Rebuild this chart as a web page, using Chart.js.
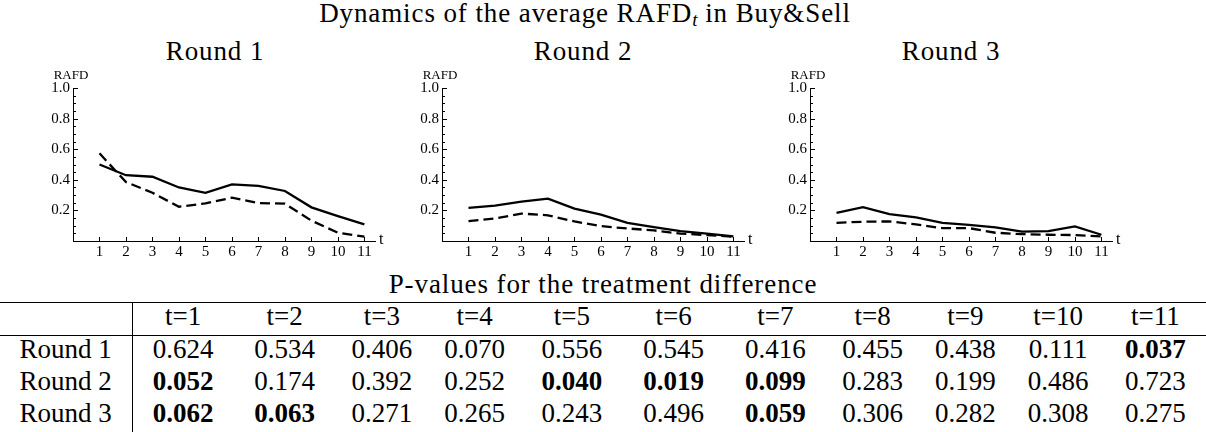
<!DOCTYPE html>
<html><head><meta charset="utf-8">
<script src="https://cdn.jsdelivr.net/npm/chart.js@4/dist/chart.umd.min.js"></script>
<style>
html,body{margin:0;padding:0;background:#fff;}
body{width:1206px;height:432px;position:relative;overflow:hidden;font-family:"Liberation Serif",serif;color:#000;}
.ttl{position:absolute;white-space:nowrap;font-size:27px;line-height:30px;letter-spacing:0.9px;transform:translateX(-50%);}
.ttl sub{font-size:19px;font-style:italic;vertical-align:-4px;line-height:0;letter-spacing:0;}
canvas{position:absolute;top:60px;}
table{position:absolute;left:0;top:302px;width:1206px;border-collapse:collapse;table-layout:fixed;font-size:27px;}
td{padding:0;height:26px;line-height:26px;padding-bottom:6px;text-align:center;white-space:nowrap;}
tr.head td{border-top:1px solid #000;border-bottom:1px solid #000;}
td.lab{border-right:1px solid #000;}
td.b{font-weight:bold;}
</style></head>
<body>
<div class="ttl" style="left:585px;top:-2px;">Dynamics of the average RAFD<sub>t</sub> in Buy&amp;Sell</div>
<div class="ttl" style="left:215px;top:36px;">Round 1</div>
<div class="ttl" style="left:583px;top:36px;">Round 2</div>
<div class="ttl" style="left:951px;top:36px;">Round 3</div>
<canvas id="c1" width="400" height="200" style="left:0px;"></canvas>
<canvas id="c2" width="400" height="200" style="left:369px;"></canvas>
<canvas id="c3" width="400" height="200" style="left:737px;"></canvas>
<div class="ttl" style="left:603px;top:269px;">P-values for the treatment difference</div>
<table id="tbl"></table>
<script>
// ---- chart data ----
const tValues = [1,2,3,4,5,6,7,8,9,10,11];
const yTickValues = [0.2,0.4,0.6,0.8,1.0];
const round1Solid  = [0.50, 0.43, 0.42, 0.35, 0.315, 0.37, 0.36, 0.327, 0.22, 0.163, 0.109];
const round1Dashed = [0.573, 0.385, 0.315, 0.224, 0.246, 0.283, 0.248, 0.244, 0.133, 0.054, 0.028];
const round2Solid  = [0.216, 0.231, 0.257, 0.277, 0.212, 0.173, 0.119, 0.091, 0.065, 0.048, 0.030];
const round2Dashed = [0.130, 0.147, 0.179, 0.168, 0.128, 0.097, 0.082, 0.069, 0.048, 0.039, 0.028];
const round3Solid  = [0.184, 0.221, 0.175, 0.155, 0.119, 0.106, 0.089, 0.061, 0.065, 0.095, 0.041];
const round3Dashed = [0.119, 0.126, 0.128, 0.108, 0.084, 0.084, 0.054, 0.045, 0.041, 0.039, 0.030];

// ---- table data ----
const tHeaders = ['t=1','t=2','t=3','t=4','t=5','t=6','t=7','t=8','t=9','t=10','t=11'];
const roundLabels = ['Round 1','Round 2','Round 3'];
const pRound1 = ['0.624','0.534','0.406','0.070','0.556','0.545','0.416','0.455','0.438','0.111','0.037'];
const pRound2 = ['0.052','0.174','0.392','0.252','0.040','0.019','0.099','0.283','0.199','0.486','0.723'];
const pRound3 = ['0.062','0.063','0.271','0.265','0.243','0.496','0.059','0.306','0.282','0.308','0.275'];
const boldRound1 = [10];
const boldRound2 = [0,4,5,6];
const boldRound3 = [0,1,6];

const FONT = {family:'"Liberation Serif", serif', size:15};

const axisDecor = {
  id:'axisDecor',
  afterDraw(chart){
    const {ctx, chartArea:a, scales:{x,y}} = chart;
    ctx.save();
    ctx.strokeStyle='#000'; ctx.lineWidth=1;
    ctx.beginPath();
    for(let k=1;k<=20;k++){
      const py = Math.round(y.getPixelForValue(k*0.05))+0.5;
      const len = (k%4===0)?5:3;
      ctx.moveTo(a.left, py); ctx.lineTo(a.left+len, py);
    }
    tValues.forEach(t=>{
      const px = Math.round(x.getPixelForValue(t))+0.5;
      ctx.moveTo(px, a.bottom); ctx.lineTo(px, a.bottom-4);
    });
    ctx.stroke();
    ctx.fillStyle='#000';
    ctx.font = '13px "Liberation Serif", serif';
    ctx.textAlign='center'; ctx.textBaseline='middle';
    ctx.fillText('RAFD', a.left-2, a.top-12);
    ctx.font = '16px "Liberation Serif", serif';
    ctx.textAlign='left';
    ctx.fillText('t', a.right+4, a.bottom-1);
    ctx.restore();
  }
};

function makeChart(id, solid, dashed){
  const pts = arr => tValues.map((t,i)=>({x:t, y:arr[i]}));
  new Chart(document.getElementById(id), {
    type:'line',
    data:{datasets:[
      {data:pts(solid), borderColor:'#000', borderWidth:2.3, pointRadius:0, fill:false, tension:0},
      {data:pts(dashed), borderColor:'#000', borderWidth:2.3, borderDash:[10,5], pointRadius:0, fill:false, tension:0}
    ]},
    options:{
      responsive:false, animation:false, events:[],
      layout:{padding:{top:28,right:25,left:0,bottom:0}},
      plugins:{legend:{display:false}, tooltip:{enabled:false}},
      scales:{
        x:{type:'linear', min:0, max:11.4,
           afterBuildTicks:s=>{s.ticks = tValues.map(v=>({value:v}));},
           afterFit:s=>{s.height=19;},
           ticks:{font:FONT, color:'#000', padding:2, maxRotation:0, autoSkip:false, callback:v=>String(v)},
           grid:{display:false, drawTicks:false},
           border:{display:true, color:'#000', width:1}},
        y:{type:'linear', min:0, max:1,
           afterBuildTicks:s=>{s.ticks = yTickValues.map(v=>({value:v}));},
           afterFit:s=>{s.width=73;},
           ticks:{font:FONT, color:'#000', padding:3, callback:v=>Number(v).toFixed(1)},
           grid:{display:false, drawTicks:false},
           border:{display:true, color:'#000', width:1}}
      }
    },
    plugins:[axisDecor]
  });
}
makeChart('c1', round1Solid, round1Dashed);
makeChart('c2', round2Solid, round2Dashed);
makeChart('c3', round3Solid, round3Dashed);

// ---- table ----
(function(){
  const tbl = document.getElementById('tbl');
  const rows = [pRound1, pRound2, pRound3];
  const bolds = [boldRound1, boldRound2, boldRound3];
  const cg = document.createElement('colgroup');
  const c0 = document.createElement('col'); c0.style.width='132px'; cg.appendChild(c0);
  tHeaders.forEach((h,j)=>{
    const c = document.createElement('col');
    const anyBold = bolds.some(b=>b.includes(j));
    c.style.width = (anyBold?101.8:92.7)+'px';
    cg.appendChild(c);
  });
  tbl.appendChild(cg);
  const hr = document.createElement('tr'); hr.className='head';
  const h0 = document.createElement('td'); h0.className='lab'; hr.appendChild(h0);
  tHeaders.forEach(h=>{const td=document.createElement('td'); td.textContent=h; hr.appendChild(td);});
  tbl.appendChild(hr);
  rows.forEach((r,i)=>{
    const tr = document.createElement('tr');
    const l = document.createElement('td'); l.className='lab'; l.textContent=roundLabels[i]; tr.appendChild(l);
    r.forEach((v,j)=>{const td=document.createElement('td'); td.textContent=v; if(bolds[i].includes(j)) td.className='b'; tr.appendChild(td);});
    tbl.appendChild(tr);
  });
})();
</script>
</body></html>
